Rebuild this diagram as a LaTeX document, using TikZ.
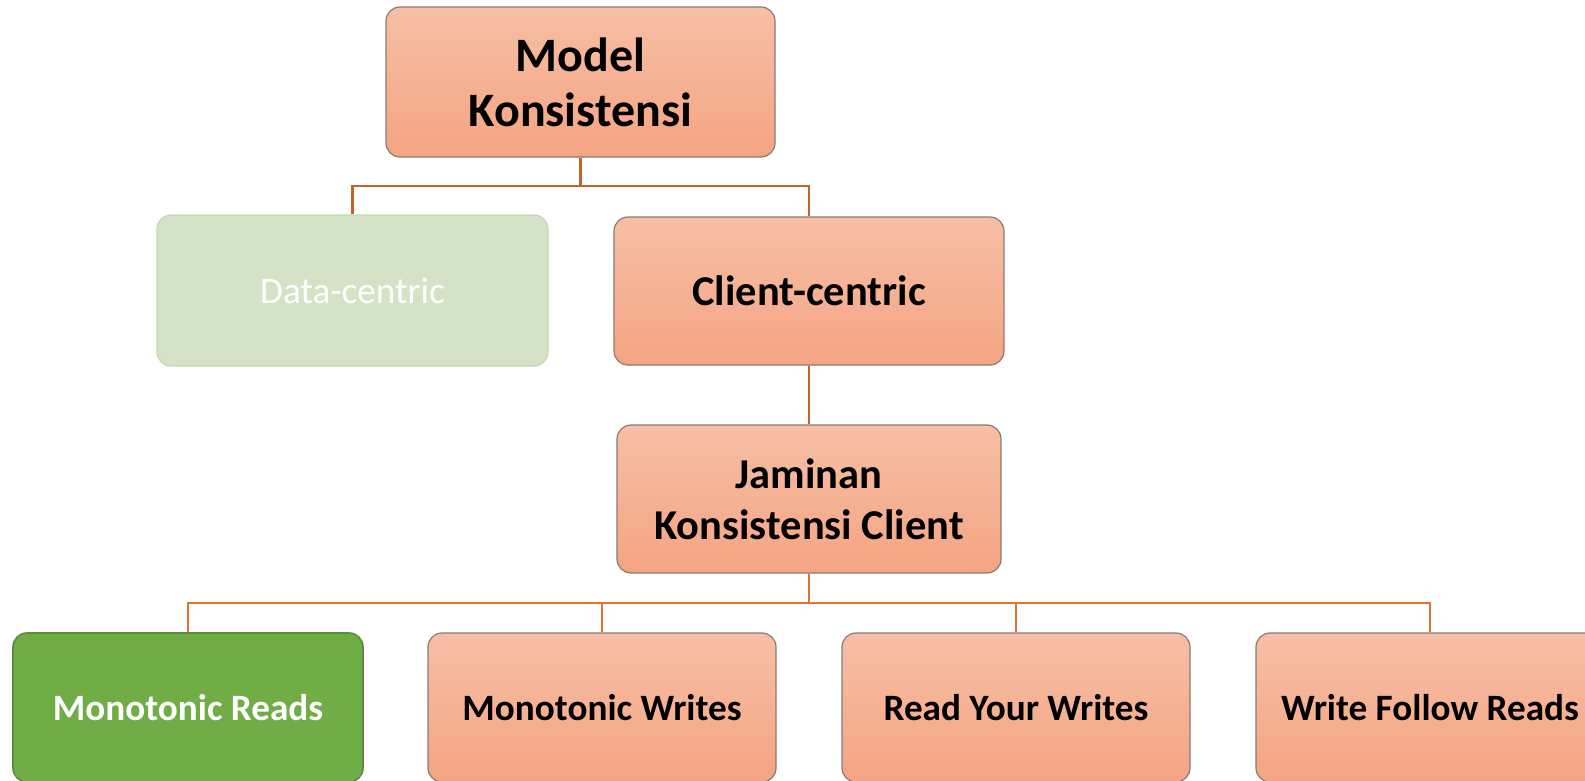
\documentclass[tikz,border=0pt]{standalone}
\usepackage{fontspec}
\setmainfont{Carlito}
\definecolor{salTop}{HTML}{F7BFA6}
\definecolor{salBot}{HTML}{F4A482}
\definecolor{boxline}{HTML}{8A7A74}
\definecolor{grnFill}{HTML}{70AD47}
\definecolor{grnLine}{HTML}{5B8C3A}
\definecolor{ltgFill}{HTML}{D4E3C6}
\definecolor{ltgLine}{HTML}{C3D8B0}
\definecolor{connTop}{HTML}{C4622A}
\definecolor{connBot}{HTML}{E27230}
\begin{document}
\begin{tikzpicture}[x=1pt,y=-1pt,
  salbox/.style={rectangle,rounded corners=14pt,draw=boxline,line width=1.2pt,
     top color=salTop,bottom color=salBot,align=center,inner sep=0pt,text=black},
  hugetxt/.style={font=\fontsize{48}{55}\selectfont\bfseries},
  bigtxt/.style={font=\fontsize{42.5}{51}\selectfont\bfseries},
  smalltxt/.style={font=\fontsize{37.2}{44}\selectfont\bfseries},
  conn/.style={line width=2.6pt},
]
\useasboundingbox (0,0) rectangle (1585,780);
\clip (0,0) rectangle (1585,780);
% nodes
\node[salbox,hugetxt,minimum width=389pt,minimum height=150pt] (mk) at (580.5,82) {Model\\Konsistensi};
\node[rectangle,rounded corners=14pt,draw=ltgLine,line width=1.2pt,fill=ltgFill,text=white,
      font=\fontsize{37.2}{44}\selectfont,minimum width=391pt,minimum height=151pt] (dc) at (352.5,290.5) {Data-centric};
\node[salbox,bigtxt,minimum width=390pt,minimum height=148pt] (cc) at (809,291) {Client-centric};
\node[salbox,bigtxt,minimum width=384pt,minimum height=148pt] (jk) at (809,499) {Jaminan\\Konsistensi Client};
\node[rectangle,rounded corners=14pt,draw=grnLine,line width=1.6pt,fill=grnFill,text=white,smalltxt,
      minimum width=350pt,minimum height=149pt] (mr) at (188,707.5) {Monotonic Reads};
\node[salbox,smalltxt,minimum width=348pt,minimum height=149pt] (mw) at (602,707.5) {Monotonic Writes};
\node[salbox,smalltxt,minimum width=348pt,minimum height=149pt] (ry) at (1016,707.5) {Read Your Writes};
\node[salbox,smalltxt,minimum width=348pt,minimum height=149pt] (wf) at (1430,707.5) {Write Follow Reads};
% bus coordinates
\coordinate (bus1) at (0,186);
\coordinate (bus2) at (0,603);
% connectors
\draw[conn,draw=connTop] (mk.south) -- (mk.south |- bus1) -| (dc.north);
\draw[conn,draw=connTop] (mk.south |- bus1) -| (cc.north);
\draw[conn,draw=connTop] (cc.south) -- (jk.north);
\draw[conn,draw=connBot] (jk.south) -- (jk.south |- bus2) -| (mr.north);
\draw[conn,draw=connBot] (jk.south |- bus2) -| (mw.north);
\draw[conn,draw=connBot] (jk.south |- bus2) -| (ry.north);
\draw[conn,draw=connBot] (jk.south |- bus2) -| (wf.north);
\end{tikzpicture}
\end{document}
